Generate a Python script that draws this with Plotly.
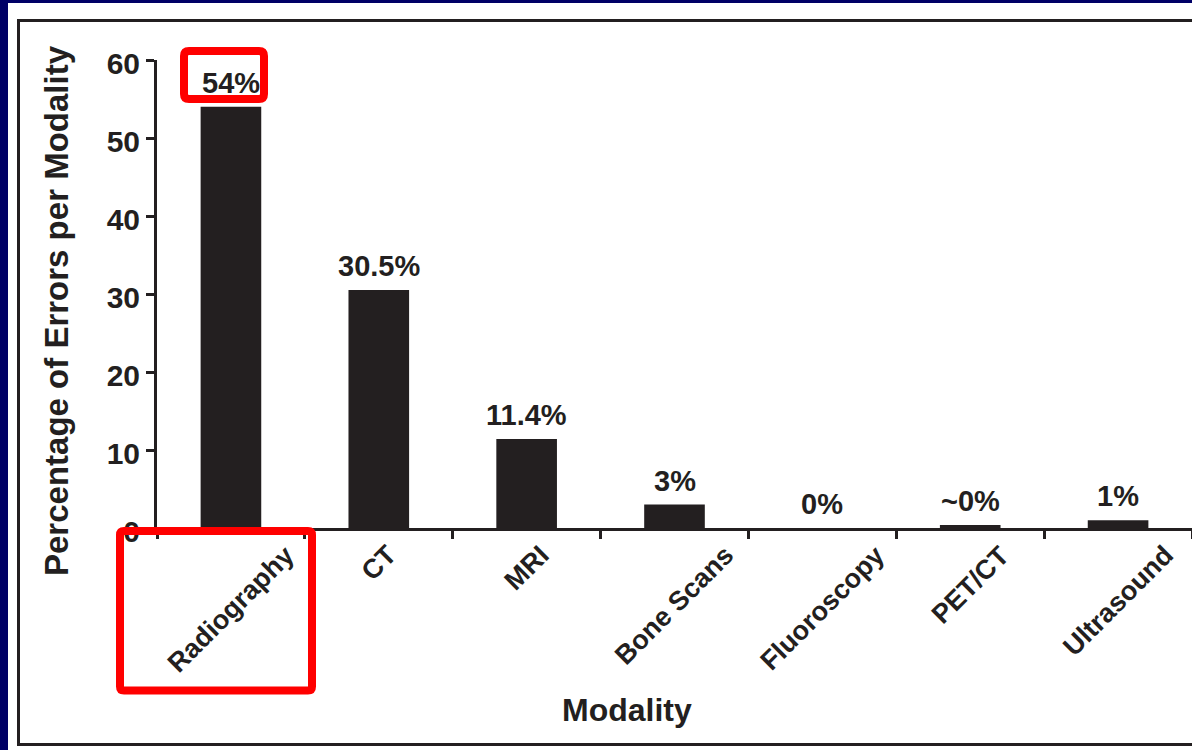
import plotly.graph_objects as go

# Share of reported errors by imaging modality
modalities = ["Radiography", "CT", "MRI", "Bone Scans", "Fluoroscopy", "PET/CT", "Ultrasound"]
error_pct = [54, 30.5, 11.4, 3, 0, 0.4, 1]
value_labels = ["54%", "30.5%", "11.4%", "3%", "0%", "~0%", "1%"]
y_ticks = [0, 10, 20, 30, 40, 50, 60]

W, H = 1192, 750
L, R, T, B = 157, 0, 60, 222
PW, PH = W - L - R, H - T - B

INK = "#231f20"
NAVY = "#000066"
RED = "#ff0000"
FONT = "Arial, 'Liberation Sans', sans-serif"


def px(xp):
    return (xp - L) / PW


def py(yp):
    return (H - B - yp) / PH


def rounded_box(x0, y0, x1, y1, r=5):
    """Closed path with rounded corners, given in pixel positions."""
    rx, ry = r / PW, r / PH
    a, b, c, d = px(x0), px(x1), py(y0), py(y1)  # c = top, d = bottom in paper units
    return (
        f"M {a + rx} {c} L {b - rx} {c} Q {b} {c} {b} {c - ry} "
        f"L {b} {d + ry} Q {b} {d} {b - rx} {d} "
        f"L {a + rx} {d} Q {a} {d} {a} {d + ry} "
        f"L {a} {c - ry} Q {a} {c} {a + rx} {c} Z"
    )


fig = go.Figure(
    go.Bar(
        x=modalities,
        y=error_pct,
        width=0.41,
        marker=dict(color=INK, line=dict(width=0)),
        cliponaxis=False,
        hoverinfo="skip",
    )
)

annotations = []
# value labels above each bar
for m, v, lab in zip(modalities, error_pct, value_labels):
    annotations.append(dict(
        x=m, y=v, xref="x", yref="y", text=lab, showarrow=False,
        xanchor="center", yanchor="bottom", yshift=6,
        font=dict(family=FONT, size=29, color=INK, weight="bold"),
    ))
# slanted category names under the axis
for m in modalities:
    annotations.append(dict(
        x=m, y=0, xref="x", yref="y", text=m, showarrow=False,
        xanchor="center", yanchor="top", yshift=-9, textangle=-45,
        font=dict(family=FONT, size=27, color=INK, weight="bold"),
    ))
# axis titles
annotations.append(dict(
    x=px(56), y=py(311), xref="paper", yref="paper",
    text="Percentage of Errors per Modality", showarrow=False, textangle=-90,
    xanchor="center", yanchor="middle",
    font=dict(family=FONT, size=33, color=INK, weight="bold"),
))
annotations.append(dict(
    x=px(627), y=py(710), xref="paper", yref="paper",
    text="Modality", showarrow=False,
    xanchor="center", yanchor="middle",
    font=dict(family=FONT, size=32, color=INK, weight="bold"),
))

shapes = [
    # white slide panel over the navy background
    dict(type="rect", xref="paper", yref="paper", layer="below",
         x0=px(8), x1=px(1220), y0=py(3), y1=py(780),
         fillcolor="white", line=dict(width=0)),
    # black frame around the figure
    dict(type="rect", xref="paper", yref="paper", layer="below",
         x0=px(18.5), x1=px(1230), y0=py(20.5), y1=py(744.5),
         fillcolor="rgba(0,0,0,0)", line=dict(color=INK, width=3)),
    # red highlight boxes
    dict(type="path", xref="paper", yref="paper", layer="above",
         path=rounded_box(184, 51, 264, 99, r=5),
         fillcolor="rgba(0,0,0,0)", line=dict(color=RED, width=8)),
    dict(type="path", xref="paper", yref="paper", layer="above",
         path=rounded_box(120, 531, 312, 690.5, r=4),
         fillcolor="rgba(0,0,0,0)", line=dict(color=RED, width=8)),
]

fig.update_layout(
    width=W, height=H,
    margin=dict(l=L, r=R, t=T, b=B, pad=0),
    paper_bgcolor=NAVY,
    plot_bgcolor="rgba(0,0,0,0)",
    showlegend=False,
    annotations=annotations,
    shapes=shapes,
    xaxis=dict(
        type="category", range=[-0.5, 6.5],
        showticklabels=False, showgrid=False, zeroline=False,
        showline=True, linecolor=INK, linewidth=3,
        ticks="outside", tickson="boundaries", ticklen=8, tickwidth=3, tickcolor=INK,
        fixedrange=True,
    ),
    yaxis=dict(
        range=[0, 60], tickvals=y_ticks, ticktext=[str(t) for t in y_ticks],
        showgrid=False, zeroline=False,
        showline=True, linecolor=INK, linewidth=3,
        ticks="outside", ticklen=8, tickwidth=3, tickcolor=INK,
        tickfont=dict(family=FONT, size=30, color=INK, weight="bold"),
        ticklabelstandoff=0,
        ticklabelshift=3,
        fixedrange=True,
    ),
)

fig.write_html("out.html", config={"displayModeBar": False})
